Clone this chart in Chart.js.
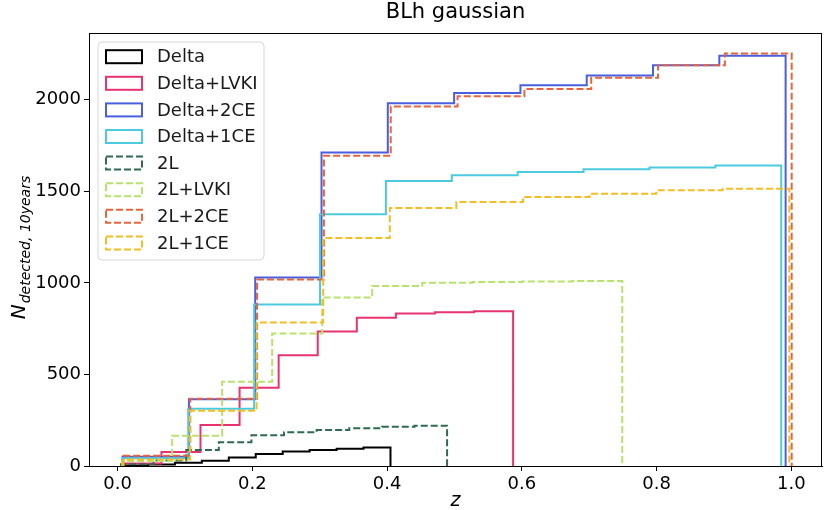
<!DOCTYPE html>
<html>
<head>
<meta charset="utf-8">
<script src="https://cdn.jsdelivr.net/npm/chart.js@4.4.1/dist/chart.umd.min.js"></script>
<style>
  html,body{margin:0;padding:0;background:#fff;}
  #wrap{width:825px;height:510px;position:relative;}
</style>
</head>
<body>
<div id="wrap"><canvas id="c" width="825" height="510"></canvas></div>
<script>
// histogramas cumulativos (10 bins iguais entre zmin e zmax de cada amostra)
const nomes=['Delta','Delta+LVKI','Delta+2CE','Delta+1CE','2L','2L+LVKI','2L+2CE','2L+1CE'];
const zMin=[0.005,0.007,0.0074,0.007,0.005,0.0067,0.0086,0.0086];
const zMax=[0.405,0.587,0.9915,0.985,0.489,0.749,1.0005,0.997];
const cumDelta=[3,8,18,28,46,66,79,88,94,101];
const cumDeltaLVKI=[13,76,224,427,605,734,809,833,840,845];
const cumDelta2CE=[51,364,1029,1711,1981,2036,2079,2132,2188,2240];
const cumDelta1CE=[42,312,882,1374,1556,1587,1605,1620,1630,1641];
const cum2L=[10,30,88,130,168,184,196,206,214,220];
const cum2LLVKI=[27,165,460,724,920,983,1000,1004,1007,1010];
const cum2L2CE=[56,367,1018,1694,1963,2018,2058,2120,2188,2252];
const cum2L1CE=[36,302,784,1245,1409,1441,1469,1487,1505,1514];
const xTicks=[0,0.2,0.4,0.6,0.8,1.0];
const yTicks=[0,500,1000,1500,2000];

const series=[cumDelta,cumDeltaLVKI,cumDelta2CE,cumDelta1CE,cum2L,cum2LLVKI,cum2L2CE,cum2L1CE];
const cores=['#000000','#e8336e','#4a5fe0','#4ccbe0','#2f6b4f','#b7e36b','#e8643c','#f5bd22'];
const tracejado=[false,false,false,false,true,true,true,true];
const FONTE='"DejaVu Sans", sans-serif';

function pontos(i){
  const v=series[i], n=v.length, w=(zMax[i]-zMin[i])/n;
  const p=[{x:zMin[i],y:0}];
  v.forEach((c,k)=>p.push({x:zMin[i]+(k+1)*w,y:c}));
  p.push({x:zMax[i],y:0});
  return p;
}

const datasets=nomes.map((nm,i)=>({
  label:nm,data:pontos(i),borderColor:cores[i],backgroundColor:cores[i],
  borderWidth:2,borderDash:tracejado[i]?[7,3]:[],pointRadius:0,fill:false,
  stepped:'after',tension:0,order:nomes.length-i
}));

// legenda dentro do gráfico, estilo matplotlib
const legenda={id:'legenda',afterDraw(ch){
  const g=ch.ctx; g.save();
  const x0=98,y0=42,w=166,h=218,r=4;
  g.beginPath();
  g.moveTo(x0+r,y0);g.arcTo(x0+w,y0,x0+w,y0+h,r);g.arcTo(x0+w,y0+h,x0,y0+h,r);
  g.arcTo(x0,y0+h,x0,y0,r);g.arcTo(x0,y0,x0+w,y0,r);g.closePath();
  g.fillStyle='rgba(255,255,255,0.8)';g.fill();
  g.strokeStyle='#d6d6d6';g.lineWidth=1;g.stroke();
  g.font='18px '+FONTE;g.textBaseline='middle';g.fillStyle='#1a1a1a';
  ch.data.datasets.forEach((d,i)=>{
    const cy=56.7+i*26.6;
    g.setLineDash(d.borderDash);g.strokeStyle=d.borderColor;g.lineWidth=2;
    g.strokeRect(106,cy-6.5,36,13);
    g.setLineDash([]);
    g.fillText(d.label,157,cy+1);
  });
  g.restore();
}};

// moldura (4 lados), título e rótulos dos eixos
const moldura={id:'moldura',afterDraw(ch){
  const a=ch.chartArea,g=ch.ctx;g.save();
  g.strokeStyle='#000';g.lineWidth=1;
  g.strokeRect(a.left+0.5,a.top+0.5,a.right-a.left-1,a.bottom-a.top);
  g.fillStyle='#000';g.textAlign='center';g.textBaseline='middle';
  g.font='21px '+FONTE;
  g.fillText('BLh gaussian',(a.left+a.right)/2,13);
  g.font='italic 19px '+FONTE;
  g.fillText('z',(a.left+a.right)/2,501);
  // N_{detected,10years}
  g.translate(22,248);g.rotate(-Math.PI/2);
  g.textAlign='left';g.textBaseline='alphabetic';
  g.font='italic 20px '+FONTE;const wN=g.measureText('N').width;
  g.font='italic 14px '+FONTE;const sub='detected, 10years';const wS=g.measureText(sub).width;
  const ini=-(wN+wS)/2;
  g.font='italic 20px '+FONTE;g.fillText('N',ini,3);
  g.font='italic 14px '+FONTE;g.fillText(sub,ini+wN+1,8);
  g.restore();
}};

new Chart(document.getElementById('c'),{
  type:'line',
  data:{datasets},
  options:{
    responsive:false,animation:false,
    layout:{padding:{top:33,right:3,left:0,bottom:0}},
    plugins:{legend:{display:false},tooltip:{enabled:false},title:{display:false}},
    scales:{
      x:{type:'linear',min:-0.0425,max:1.0455,
        afterBuildTicks:s=>{s.ticks=xTicks.map(v=>({value:v}));},
        afterFit:s=>{s.height=44;},
        grid:{display:true,drawOnChartArea:false,drawTicks:true,tickLength:5,color:'#000',tickColor:'#000'},
        border:{display:true,color:'#000',width:1},
        ticks:{color:'#000',font:{family:FONTE,size:18},padding:3,maxRotation:0,callback:v=>v.toFixed(1)}},
      y:{type:'linear',min:0,max:2364,
        afterBuildTicks:s=>{s.ticks=yTicks.map(v=>({value:v}));},
        afterFit:s=>{s.width=89;},
        grid:{display:true,drawOnChartArea:false,drawTicks:true,tickLength:5,color:'#000',tickColor:'#000'},
        border:{display:true,color:'#000',width:1},
        ticks:{color:'#000',font:{family:FONTE,size:18},padding:3,callback:v=>String(v)}}
    }
  },
  plugins:[legenda,moldura]
});
</script>
</body>
</html>
